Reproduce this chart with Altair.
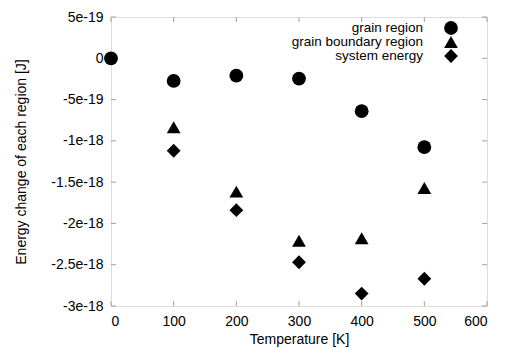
import altair as alt
import pandas as pd

temps = [0, 100, 200, 300, 400, 500]
grain_region = [0.0, -2.74e-19, -2.10e-19, -2.46e-19, -6.40e-19, -1.076e-18]
gb_temps = [100, 200, 300, 400, 500]
grain_boundary = [-8.35e-19, -1.615e-18, -2.21e-18, -2.18e-18, -1.57e-18]
system_energy = [-1.12e-18, -1.84e-18, -2.47e-18, -2.85e-18, -2.67e-18]

series_names = ["grain region", "grain boundary region", "system energy"]
series_shapes = ["circle", "triangle-up", "diamond"]

x_ticks = [0, 100, 200, 300, 400, 500, 600]
y_ticks = [5e-19, 0.0, -5e-19, -1e-18, -1.5e-18, -2e-18, -2.5e-18, -3e-18]
y_tick_labels = ["5e-19", "0", "-5e-19", "-1e-18", "-1.5e-18", "-2e-18", "-2.5e-18", "-3e-18"]

W, H = 376, 289
FONT = "Liberation Sans"
FRAME = "#808080"
TICK = "#a0a0a0"

rows = []
for t, v in zip(temps, grain_region):
    rows.append({"T": t, "E": v, "series": series_names[0]})
for t, v in zip(gb_temps, grain_boundary):
    rows.append({"T": t, "E": v, "series": series_names[1]})
for t, v in zip(gb_temps, system_energy):
    rows.append({"T": t, "E": v, "series": series_names[2]})
df = pd.DataFrame(rows)

label_arr = "[" + ",".join("'%s'" % s for s in y_tick_labels) + "]"
y_label_expr = label_arr + "[1 - round(datum.value * 2e18)]"

x_scale = alt.Scale(domain=[0, 600], nice=False, zero=False)
y_scale = alt.Scale(domain=[-3e-18, 5e-19], nice=False, zero=False)

points = alt.Chart(df).mark_point(filled=True, opacity=1, color="black", size=190).encode(
    x=alt.X("T:Q", scale=x_scale,
            axis=alt.Axis(values=x_ticks, title="Temperature [K]", ticks=False, grid=False,
                          domain=False, labelFont=FONT, labelFontSize=14, labelColor="black",
                          labelPadding=8, titleFont=FONT, titleFontSize=14, titleFontWeight="normal",
                          titleColor="black", titlePadding=4, format="d")),
    y=alt.Y("E:Q", scale=y_scale,
            axis=alt.Axis(values=y_ticks, title="Energy change of each region [J]", ticks=False,
                          grid=False, domain=False, labelExpr=y_label_expr, labelFont=FONT,
                          labelFontSize=14, labelColor="black", labelPadding=8,
                          titleFont=FONT, titleFontSize=14, titleFontWeight="normal",
                          titleColor="black", titlePadding=22)),
    shape=alt.Shape("series:N", scale=alt.Scale(domain=series_names, range=series_shapes), legend=None),
)

xt = pd.DataFrame({"T": x_ticks})
yt = pd.DataFrame({"E": y_ticks})
tick_len = 5
x_bottom = alt.Chart(xt).mark_rule(color=TICK, strokeWidth=1).encode(
    x=alt.X("T:Q", scale=x_scale), y=alt.value(H), y2=alt.value(H - tick_len))
x_top = alt.Chart(xt).mark_rule(color=TICK, strokeWidth=1).encode(
    x=alt.X("T:Q", scale=x_scale), y=alt.value(0), y2=alt.value(tick_len))
y_left = alt.Chart(yt).mark_rule(color=TICK, strokeWidth=1).encode(
    y=alt.Y("E:Q", scale=y_scale), x=alt.value(0), x2=alt.value(tick_len))
y_right = alt.Chart(yt).mark_rule(color=TICK, strokeWidth=1).encode(
    y=alt.Y("E:Q", scale=y_scale), x=alt.value(W), x2=alt.value(W - tick_len))

legend_layers = []
for i, (name, shp) in enumerate(zip(series_names, series_shapes)):
    ld = pd.DataFrame({"label": [name]})
    ypos = 11 + 14 * i
    legend_layers.append(
        alt.Chart(ld).mark_text(align="right", baseline="middle", font=FONT, fontSize=13.5,
                                color="black").encode(
            text="label:N", x=alt.value(312), y=alt.value(ypos)))
    legend_layers.append(
        alt.Chart(ld).mark_point(filled=True, opacity=1, color="black", size=190, shape=shp).encode(
            x=alt.value(340), y=alt.value(ypos)))

chart = alt.layer(x_bottom, x_top, y_left, y_right, points, *legend_layers).properties(
    width=W, height=H,
    autosize=alt.AutoSizeParams(type="none"),
    padding={"left": 111, "top": 17, "right": 18, "bottom": 43},
).configure_view(stroke=FRAME, strokeWidth=1).configure(background="white")

chart.save("out.html", embed_options={"renderer": "svg", "actions": False})
